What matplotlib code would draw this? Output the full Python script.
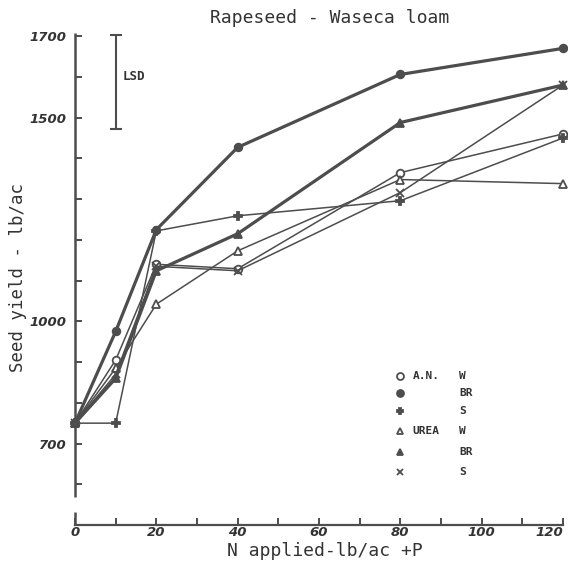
import matplotlib.pyplot as plt

# N rate (lb/ac) and seed yield (lb/ac)
n_rate = [0, 10, 20, 40, 80, 120]
an_w = [750, 905, 1140, 1129, 1365, 1460]
an_br = [750, 975, 1225, 1427, 1606, 1670]
an_s = [750, 750, 1222, 1259, 1296, 1450]
urea_w = [750, 885, 1042, 1173, 1348, 1338]
urea_br = [750, 860, 1124, 1215, 1488, 1580]
urea_s = [750, 870, 1135, 1124, 1316, 1580]

x_ticks = [0, 10, 20, 30, 40, 50, 60, 70, 80, 90, 100, 110, 120]
x_labels = ["0", "", "20", "", "40", "", "60", "", "80", "", "100", "", "120"]
y_ticks = [600, 700, 800, 900, 1000, 1100, 1200, 1300, 1400, 1500, 1600, 1700]
y_labels = ["", "700", "", "", "1000", "", "", "", "", "1500", "", "1700"]

lsd_x = 10
lsd_lo, lsd_hi = 1473, 1702

ink = "#4d4d4d"
mono = "DejaVu Sans Mono"

fig = plt.figure(figsize=(5.68, 5.70), dpi=100)
ax = fig.add_axes([75 / 568, 45 / 570, (563 - 75) / 568, (525 - 28) / 570])

# lines: W and S thin, BR thick
series = [
    (an_w, "o", "white", 1.1),
    (an_br, "o", ink, 2.3),
    (an_s, "P", ink, 1.1),
    (urea_w, "^", "white", 1.1),
    (urea_br, "^", ink, 2.3),
    (urea_s, "x", ink, 1.1),
]
for vals, mk, face, lw in series:
    ax.plot(n_rate, vals, color=ink, lw=lw, marker=mk, ms=5.5,
            mfc=face, mec=ink, mew=1.3, clip_on=False, zorder=3)

ax.set_xlim(0, 120)
ax.set_ylim(500, 1720)

for side in ["top", "right", "left"]:
    ax.spines[side].set_visible(False)
ax.spines["bottom"].set_color(ink)
ax.spines["bottom"].set_linewidth(1.6)

# broken y axis drawn by hand
ax.plot([0, 0], [568, 1707], color=ink, lw=1.8, clip_on=False, solid_capstyle="butt")
ax.plot([0, 0], [500, 532], color=ink, lw=1.8, clip_on=False, solid_capstyle="butt")

ax.set_xticks(x_ticks)
ax.set_xticklabels(x_labels)
ax.set_yticks(y_ticks)
ax.set_yticklabels(y_labels)
ax.tick_params(direction="in", length=5, width=1.4, color=ink, labelcolor="#333333",
               labelsize=9.5)
ax.tick_params(axis="x", pad=1)
ax.tick_params(axis="y", pad=6)
for lab in ax.get_xticklabels() + ax.get_yticklabels():
    lab.set_fontstyle("italic")
    lab.set_fontweight("bold")
ax.get_xticklabels()[-1].set_horizontalalignment("right")

# LSD bar
ax.errorbar([lsd_x], [(lsd_lo + lsd_hi) / 2], yerr=[(lsd_hi - lsd_lo) / 2],
            color=ink, lw=1.5, capsize=4, capthick=1.5, fmt="none")
ax.text(lsd_x + 1.8, 1601, "LSD", fontsize=9, fontweight="bold", color="#333333",
        va="center", family=mono)

# hand-lettered legend
leg_rows = [
    ("o", "white", "A.N.", "W", 865),
    ("o", ink, "", "BR", 823),
    ("P", ink, "", "S", 779),
    ("^", "white", "UREA", "W", 730),
    ("^", ink, "", "BR", 680),
    ("x", ink, "", "S", 631),
]
for mk, face, name, kind, yy in leg_rows:
    ax.plot([80], [yy], marker=mk, ms=5, mfc=face, mec=ink, mew=1.3, ls="none")
    if name:
        ax.text(83, yy, name, fontsize=8, fontweight="bold", color="#333333",
                va="center", family=mono)
    ax.text(94.5, yy, kind, fontsize=8, fontweight="bold", color="#333333",
            va="center", family=mono)

fig.text(330 / 568, 1 - 18 / 570, "Rapeseed - Waseca loam", ha="center", va="center",
         fontsize=13, color="#333333", family=mono)
fig.text(325 / 568, 1 - 551 / 570, "N applied-lb/ac +P", ha="center", va="center",
         fontsize=13, color="#333333", family=mono)
fig.text(18 / 568, 1 - 278 / 570, "Seed yield - lb/ac", ha="center", va="center",
         rotation=90, fontsize=12.5, color="#333333", family=mono)

fig.savefig("out.png", dpi=100)
